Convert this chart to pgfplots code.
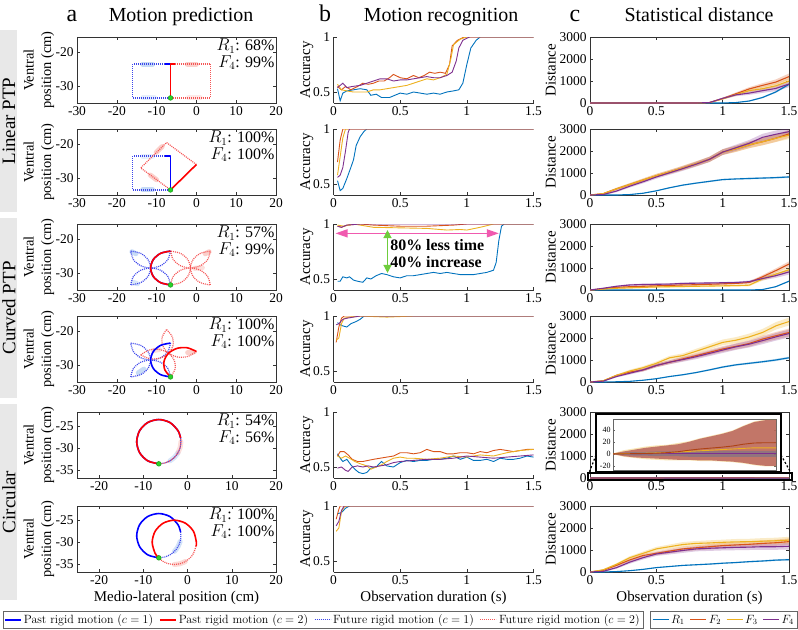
\documentclass[border=0pt]{standalone}
\usepackage{pgfplots}
\pgfplotsset{compat=1.18}
\usepackage{pgfplotstable}
\usetikzlibrary{arrows.meta}
\usepackage{fontspec}
\setmainfont{Liberation Serif}
\newfontfamily\lmr{Latin Modern Roman}

\definecolor{cR}{RGB}{0,114,189}
\definecolor{cF2}{RGB}{217,83,25}
\definecolor{cF3}{RGB}{237,177,32}
\definecolor{cF4}{RGB}{126,47,142}
\definecolor{dotB}{RGB}{60,70,235}
\definecolor{dotR}{RGB}{245,85,85}
\definecolor{haloB}{RGB}{130,175,235}
\definecolor{haloR}{RGB}{245,150,140}
\definecolor{gfill}{RGB}{40,210,40}
\definecolor{gedge}{RGB}{20,140,20}
\definecolor{arrowpink}{RGB}{240,90,175}
\definecolor{arrowgreen}{RGB}{110,205,60}
\definecolor{bandred}{RGB}{185,100,92}

% distance curves: mean and spread per predictor; rows run forward (s=1) and back (s=-1)
% so that mean + s*spread outlines the shaded band
\pgfplotstableread{
x R F2 F3 F4 eR eF s
0 0 0 0 0 1 1 1
0.1 0 0 0 0 1 1 1
0.2 0 0 0 0 1 1 1
0.3 0 0 0 0 1 1 1
0.4 0 0 0 0 1 1 1
0.5 0 0 0 0 1 1 1
0.6 0 0 0 0 1 2 1
0.7 0 0 0 0 1 2 1
0.8 0 0 0 0 1 3 1
0.9 0 20 20 20 1 15 1
1.0 0 200 190 210 5 40 1
1.1 20 420 380 370 10 60 1
1.2 90 640 560 450 20 80 1
1.3 250 800 650 560 30 100 1
1.4 500 950 780 660 40 120 1
1.5 850 1200 1000 860 50 140 1
1.5 850 1200 1000 860 50 140 -1
1.4 500 950 780 660 40 120 -1
1.3 250 800 650 560 30 100 -1
1.2 90 640 560 450 20 80 -1
1.1 20 420 380 370 10 60 -1
1.0 0 200 190 210 5 40 -1
0.9 0 20 20 20 1 15 -1
0.8 0 0 0 0 1 3 -1
0.7 0 0 0 0 1 2 -1
0.6 0 0 0 0 1 2 -1
0.5 0 0 0 0 1 1 -1
0.4 0 0 0 0 1 1 -1
0.3 0 0 0 0 1 1 -1
0.2 0 0 0 0 1 1 -1
0.1 0 0 0 0 1 1 -1
0 0 0 0 0 1 1 -1
}\cOne
\pgfplotstableread{
x R F2 F3 F4 eR eF s
0 0 0 0 0 1 1 1
0.1 0 60 60 20 2 30 1
0.2 0 280 280 180 5 50 1
0.3 20 480 480 400 10 60 1
0.4 80 680 680 600 15 70 1
0.5 190 880 880 820 20 80 1
0.6 330 1050 1050 1010 25 90 1
0.7 450 1230 1230 1200 30 100 1
0.8 540 1420 1420 1400 30 110 1
0.9 620 1620 1620 1620 35 120 1
1.0 700 1950 1950 1950 35 130 1
1.1 730 2100 2100 2150 35 140 1
1.2 750 2280 2280 2350 40 150 1
1.3 770 2420 2420 2620 40 160 1
1.4 790 2580 2580 2760 40 170 1
1.5 820 2780 2720 2880 45 180 1
1.5 820 2780 2720 2880 45 180 -1
1.4 790 2580 2580 2760 40 170 -1
1.3 770 2420 2420 2620 40 160 -1
1.2 750 2280 2280 2350 40 150 -1
1.1 730 2100 2100 2150 35 140 -1
1.0 700 1950 1950 1950 35 130 -1
0.9 620 1620 1620 1620 35 120 -1
0.8 540 1420 1420 1400 30 110 -1
0.7 450 1230 1230 1200 30 100 -1
0.6 330 1050 1050 1010 25 90 -1
0.5 190 880 880 820 20 80 -1
0.4 80 680 680 600 15 70 -1
0.3 20 480 480 400 10 60 -1
0.2 0 280 280 180 5 50 -1
0.1 0 60 60 20 2 30 -1
0 0 0 0 0 1 1 -1
}\cTwo
\pgfplotstableread{
x R F2 F3 F4 eR eF s
0 0 0 0 0 1 1 1
0.1 0 60 40 80 1 20 1
0.2 0 120 80 170 1 30 1
0.3 0 150 100 230 1 40 1
0.4 0 170 120 250 1 40 1
0.5 0 190 140 260 1 40 1
0.6 0 210 150 270 1 40 1
0.7 0 230 160 300 1 40 1
0.8 0 240 170 310 1 40 1
0.9 0 260 180 320 1 40 1
1.0 0 280 190 330 1 40 1
1.1 0 300 200 340 1 45 1
1.2 0 340 220 380 5 50 1
1.3 20 600 500 520 10 80 1
1.4 150 880 720 650 20 100 1
1.5 400 1180 920 820 30 120 1
1.5 400 1180 920 820 30 120 -1
1.4 150 880 720 650 20 100 -1
1.3 20 600 500 520 10 80 -1
1.2 0 340 220 380 5 50 -1
1.1 0 300 200 340 1 45 -1
1.0 0 280 190 330 1 40 -1
0.9 0 260 180 320 1 40 -1
0.8 0 240 170 310 1 40 -1
0.7 0 230 160 300 1 40 -1
0.6 0 210 150 270 1 40 -1
0.5 0 190 140 260 1 40 -1
0.4 0 170 120 250 1 40 -1
0.3 0 150 100 230 1 40 -1
0.2 0 120 80 170 1 30 -1
0.1 0 60 40 80 1 20 -1
0 0 0 0 0 1 1 -1
}\cThree
\pgfplotstableread{
x R F2 F3 F4 eR eF s
0 0 0 0 0 1 1 1
0.1 0 50 60 40 2 20 1
0.2 10 300 300 250 5 40 1
0.3 30 450 500 400 10 60 1
0.4 80 550 650 550 15 70 1
0.5 150 750 850 750 20 80 1
0.6 250 900 1100 900 25 90 1
0.7 330 1050 1200 1020 30 100 1
0.8 430 1200 1400 1150 30 110 1
0.9 550 1350 1600 1300 35 120 1
1.0 680 1500 1800 1450 40 130 1
1.1 780 1620 1900 1600 40 140 1
1.2 850 1750 2050 1720 45 150 1
1.3 920 1950 2250 1880 45 160 1
1.4 1000 2100 2550 2050 50 170 1
1.5 1100 2250 2750 2200 50 180 1
1.5 1100 2250 2750 2200 50 180 -1
1.4 1000 2100 2550 2050 50 170 -1
1.3 920 1950 2250 1880 45 160 -1
1.2 850 1750 2050 1720 45 150 -1
1.1 780 1620 1900 1600 40 140 -1
1.0 680 1500 1800 1450 40 130 -1
0.9 550 1350 1600 1300 35 120 -1
0.8 430 1200 1400 1150 30 110 -1
0.7 330 1050 1200 1020 30 100 -1
0.6 250 900 1100 900 25 90 -1
0.5 150 750 850 750 20 80 -1
0.4 80 550 650 550 15 70 -1
0.3 30 450 500 400 10 60 -1
0.2 10 300 300 250 5 40 -1
0.1 0 50 60 40 2 20 -1
0 0 0 0 0 1 1 -1
}\cFour
\pgfplotstableread{
x R F2 F3 F4 b2 b3 bB
0 0 0 0 0 0.5 0.6 0.5
0.1 0 0 0.3 0.2 4 6 2
0.2 0 0.3 0.5 0.3 7 9 3
0.3 0 0.5 1 0.3 10 12 3
0.4 0 1 1.5 0.5 12 14 4
0.5 0 2 2 0.5 14 15 4
0.6 0 3.5 3 0.5 16 18 4
0.7 0 6 4 0.5 20 21 5
0.8 0 8 5 0.5 25 26 5
0.9 0 9.5 6 0.5 29 30 5
1.0 0 11 7 0.5 33 34 5
1.1 0 13 8 0.5 38 39 5
1.2 0 16 9 0.5 46 47 5
1.3 0 18 10 0.5 53 54 5
1.4 0 18.5 10 0.5 56 57 5
1.5 0 18.5 10 0.5 56 57 5
1.5 0 18.5 10 0.5 -20 -21 -5
1.4 0 18.5 10 0.5 -20 -21 -5
1.3 0 18 10 0.5 -18 -19 -5
1.2 0 16 9 0.5 -15 -16 -5
1.1 0 13 8 0.5 -13 -14 -5
1.0 0 11 7 0.5 -12 -13 -5
0.9 0 9.5 6 0.5 -11 -12 -5
0.8 0 8 5 0.5 -11 -12 -5
0.7 0 6 4 0.5 -10 -11 -5
0.6 0 3.5 3 0.5 -10 -11 -4
0.5 0 2 2 0.5 -9 -11 -4
0.4 0 1 1.5 0.5 -8 -10 -4
0.3 0 0.5 1 0.3 -7 -9 -3
0.2 0 0.3 0.5 0.3 -6 -7 -3
0.1 0 0 0.3 0.2 -4 -5 -2
0 0 0 0 0 -0.5 -0.6 -0.5
}\cFive
\pgfplotstableread{
x R F2 F3 F4 eR eF s
0 0 0 0 0 1 1 1
0.1 0 80 100 30 2 30 1
0.2 20 300 350 200 5 50 1
0.3 60 550 650 450 10 70 1
0.4 120 750 850 650 15 80 1
0.5 200 850 1050 820 20 90 1
0.6 250 950 1150 900 20 100 1
0.7 300 1050 1250 980 25 110 1
0.8 330 1100 1300 1050 25 110 1
0.9 360 1150 1320 1080 30 120 1
1.0 400 1200 1350 1100 30 120 1
1.1 430 1230 1370 1120 30 130 1
1.2 470 1260 1380 1130 35 130 1
1.3 500 1300 1400 1150 35 140 1
1.4 540 1330 1420 1150 40 140 1
1.5 560 1380 1450 1170 40 150 1
1.5 560 1380 1450 1170 40 150 -1
1.4 540 1330 1420 1150 40 140 -1
1.3 500 1300 1400 1150 35 140 -1
1.2 470 1260 1380 1130 35 130 -1
1.1 430 1230 1370 1120 30 130 -1
1.0 400 1200 1350 1100 30 120 -1
0.9 360 1150 1320 1080 30 120 -1
0.8 330 1100 1300 1050 25 110 -1
0.7 300 1050 1250 980 25 110 -1
0.6 250 950 1150 900 20 100 -1
0.5 200 850 1050 820 20 90 -1
0.4 120 750 850 650 15 80 -1
0.3 60 550 650 450 10 70 -1
0.2 20 300 350 200 5 50 -1
0.1 0 80 100 30 2 30 -1
0 0 0 0 0 1 1 -1
}\cSix

\pgfplotsset{
  panel/.style={scale only axis, anchor=south west, height=66bp,
    axis line style={line width=0.6bp, black!80},
    every tick/.style={line width=0.5bp, black!80},
    major tick length=3bp, tick align=inside,
    tick label style={font=\fontsize{13.5}{14}\selectfont},
    /pgf/number format/assume math mode=true,
    /pgf/number format/1000 sep={},
    scaled ticks=false},
  apanel/.style={panel, width=199bp, xmin=-30, xmax=20, ymin=-35, ymax=-15.5,
    xtick={-30,-20,-10,0,10,20}, ytick={-30,-20},
    every axis y label/.style={at={(axis description cs:-0.191,0.5)}, rotate=90,
      anchor=center, align=center, font=\fontsize{14.5}{17.5}\selectfont},
    ylabel={Ventral\\position (cm)}},
  acirc/.style={apanel, xmin=-25, xmax=20, ymin=-36.7, ymax=-21.8,
    xtick={-20,-10,0,10,20}, ytick={-35,-30,-25}},
  bpanel/.style={panel, width=200bp, xmin=0, xmax=1.5, ymin=0.4, ymax=1,
    xtick={0,0.5,1,1.5}, ytick={0.5,1},
    axis x line*=bottom, axis y line*=left,
    every axis y label/.style={at={(axis description cs:-0.134,0.5)}, rotate=90,
      anchor=center, font=\fontsize{15}{16}\selectfont},
    ylabel={Accuracy}},
  cpanel/.style={panel, width=199bp, xmin=0, xmax=1.5, ymin=0, ymax=3000,
    xtick={0,0.5,1,1.5}, ytick={0,1000,2000,3000},
    every axis y label/.style={at={(axis description cs:-0.197,0.5)}, rotate=90,
      anchor=center, font=\fontsize{15}{16}\selectfont},
    ylabel={Distance}},
  bottomx/.style={every axis x label/.style={at={(axis description cs:0.5,-0.385)},
      anchor=center, font=\fontsize{15}{16}\selectfont}},
  p1/.style={forget plot, color=blue, line width=1.6bp, line join=round},
  p2/.style={forget plot, color=red, line width=1.6bp, line join=round},
  f1/.style={forget plot, color=dotB, line width=1.2bp, dash pattern=on 1bp off 1bp},
  f2/.style={forget plot, color=dotR, line width=1.2bp, dash pattern=on 1bp off 1bp},
  hB/.style={forget plot, color=haloB, line width=5bp, opacity=0.45, line cap=round, line join=round},
  hR/.style={forget plot, color=haloR, line width=5bp, opacity=0.45, line cap=round, line join=round},
  gdot/.style={forget plot, only marks, mark=*, mark size=2.4bp,
    mark options={fill=gfill, draw=gedge, line width=0.4bp}},
  lR/.style={forget plot, color=cR, line width=0.9bp},
  lF2/.style={forget plot, color=cF2, line width=0.9bp},
  lF3/.style={forget plot, color=cF3, line width=0.9bp},
  lF4/.style={forget plot, color=cF4, line width=0.9bp},
  keystyle/.style={legend columns=4, legend cell align=left,
    legend style={anchor=center, draw=black!60, line width=0.5bp,
      font=\lmr\fontsize{12}{13}\selectfont, inner sep=1.5bp}},
}

% legend key: a short stroke in the given style
\newcommand{\keyline}[1]{%
  \addlegendimage{legend image code/.code={\draw[#1] (0bp,0bp) -- (16bp,0bp);}}%
}

% shaded spread around one distance curve
\newcommand{\band}[4]{%
  \addplot[fill=#4, fill opacity=0.25, draw=none, forget plot]
    table[x=x, y expr=\thisrow{#2}+\thisrow{s}*\thisrow{#3}] {#1};
}
\newcommand{\distcurves}[1]{%
  \band{#1}{R}{eR}{cR}
  \band{#1}{F2}{eF}{cF2}
  \band{#1}{F3}{eF}{cF3}
  \band{#1}{F4}{eF}{cF4}
  \addplot[lR, line width=1.1bp] table[x=x, y=R] {#1};
  \addplot[lF2, line width=1.1bp] table[x=x, y=F2] {#1};
  \addplot[lF3, line width=1.1bp] table[x=x, y=F3] {#1};
  \addplot[lF4, line width=1.1bp] table[x=x, y=F4] {#1};
}
\newcommand{\scores}[2]{%
  \node[anchor=north east, align=right, inner sep=1.5bp, font=\fontsize{16}{17}\selectfont]
    at (rel axis cs:1,1) {$R_1$: #1\%\\$F_4$: #2\%};
}

\begin{document}
\begin{tikzpicture}
\useasboundingbox (0,0) rectangle (798bp,-630bp);

% row group labels
\fill[black!9] (0,-30bp) rectangle (17bp,-212bp);
\fill[black!9] (0,-218bp) rectangle (17bp,-398bp);
\fill[black!9] (0,-404bp) rectangle (17bp,-600bp);
\node[rotate=90, font=\fontsize{19}{20}\selectfont] at (9bp,-121bp) {Linear PTP};
\node[rotate=90, font=\fontsize{19}{20}\selectfont] at (9bp,-308bp) {Curved PTP};
\node[rotate=90, font=\fontsize{19}{20}\selectfont] at (9bp,-502bp) {Circular};

% column headings
\node[anchor=base, font=\fontsize{24}{24}\selectfont] at (72bp,-21.7bp) {a};
\node[anchor=base, font=\fontsize{20}{20}\selectfont] at (181bp,-21.7bp) {Motion prediction};
\node[anchor=base, font=\fontsize{24}{24}\selectfont] at (325bp,-21.7bp) {b};
\node[anchor=base, font=\fontsize{20}{20}\selectfont] at (441bp,-21.7bp) {Motion recognition};
\node[anchor=base, font=\fontsize{24}{24}\selectfont] at (575bp,-21.7bp) {c};
\node[anchor=base, font=\fontsize{20}{20}\selectfont] at (699bp,-21.7bp) {Statistical distance};

%% ---------------- column a: trajectories ----------------
% linear, case 1
\begin{axis}[apanel, at={(77bp,-103bp)}]
\addplot[hB] coordinates {(-13.5,-23.5)(-11,-23.5)};
\addplot[hB, opacity=0.2] coordinates {(-13.5,-33.5)(-10.5,-33.5)};
\addplot[hR] coordinates {(-2.3,-23.5)(0,-23.5)};
\addplot[hR, opacity=0.2] coordinates {(-2,-33.5)(1,-33.5)};
\addplot[f1] coordinates {(-8,-23.5)(-16,-23.5)(-16,-33.5)(-6.5,-33.5)};
\addplot[f2] coordinates {(-5.5,-23.5)(3.5,-23.5)(3.5,-33.5)(-6.5,-33.5)};
\addplot[p1] coordinates {(-6.5,-33.5)(-6.5,-23.5)(-8,-23.5)};
\addplot[p2] coordinates {(-6.5,-33.5)(-6.5,-23.5)(-5.5,-23.5)};
\addplot[gdot] coordinates {(-6.5,-33.5)};
\scores{68}{99}
\end{axis}

% linear, case 2
\begin{axis}[apanel, at={(77bp,-195bp)}]
\addplot[hB] coordinates {(-13.5,-33.5)(-11,-33.5)};
\addplot[hB, opacity=0.2] coordinates {(-13.5,-23.5)(-11,-23.5)};
\addplot[hR] coordinates {(-8.6,-20.7)(-10.1,-22.4)};
\addplot[hR] coordinates {(-11.6,-29.1)(-10,-30.5)};
\addplot[f1] coordinates {(-8,-23.5)(-16,-23.5)(-16,-33.5)(-6.5,-33.5)};
\addplot[f2] coordinates {(0,-26)(-7.5,-19.5)(-14,-27)(-6.5,-33.5)};
\addplot[p1] coordinates {(-6.5,-33.5)(-6.5,-23.5)(-8,-23.5)};
\addplot[p2] coordinates {(-6.5,-33.5)(0,-26)};
\addplot[gdot] coordinates {(-6.5,-33.5)};
\scores{100}{100}
\end{axis}

% curved, case 1
\begin{axis}[apanel, at={(77bp,-290bp)}]
\addplot[hB] coordinates {(-16.2,-23.7)(-15.2,-24.3)};
\addplot[hB, opacity=0.3] coordinates {(-15.9,-32.7)(-14.8,-33.2)};
\addplot[hR] coordinates {(3.2,-23.7)(2.2,-24.3)};
\addplot[hR, opacity=0.3] coordinates {(1.5,-28.4)(-0.5,-28.6)};
\addplot[f1, smooth] coordinates {(-6.5,-23.5)(-7.17,-26)(-9,-27.83)(-11.5,-28.5)(-14,-27.83)(-15.83,-26)(-16.5,-23.5)};
\addplot[f1, smooth] coordinates {(-16.5,-23.5)(-14,-24.17)(-12.17,-26)(-11.5,-28.5)(-12.17,-31)(-14,-32.83)(-16.5,-33.5)};
\addplot[f1, smooth] coordinates {(-16.5,-33.5)(-15.83,-31)(-14,-29.17)(-11.5,-28.5)(-9,-29.17)(-7.17,-31)(-6.5,-33.5)};
\addplot[f2, smooth] coordinates {(-6.5,-33.5)(-4,-32.83)(-2.17,-31)(-1.5,-28.5)(-2.17,-26)(-4,-24.17)(-6.5,-23.5)};
\addplot[f2, smooth] coordinates {(-6.5,-23.5)(-5.83,-26)(-4,-27.83)(-1.5,-28.5)(1,-27.83)(2.83,-26)(3.5,-23.5)};
\addplot[f2, smooth] coordinates {(3.5,-23.5)(1,-24.17)(-0.83,-26)(-1.5,-28.5)(-0.83,-31)(1,-32.83)(3.5,-33.5)};
\addplot[f2, smooth] coordinates {(3.5,-33.5)(2.83,-31)(1,-29.17)(-1.5,-28.5)(-4,-29.17)(-5.83,-31)(-6.5,-33.5)};
\addplot[p1, smooth] coordinates {(-6.5,-33.5)(-9,-32.83)(-10.83,-31)(-11.5,-28.5)(-10.83,-26)(-9,-24.17)(-6.5,-23.5)};
\addplot[p2, smooth] coordinates {(-6.5,-33.5)(-9,-32.83)(-10.83,-31)(-11.5,-28.5)(-10.83,-26)(-9,-24.17)(-6.5,-23.5)};
\addplot[gdot] coordinates {(-6.5,-33.5)};
\scores{57}{99}
\end{axis}

% curved, case 2
\begin{axis}[apanel, at={(77bp,-382bp)}]
\addplot[hB] coordinates {(-14.6,-32.3)(-13.2,-31.2)};
\addplot[hR] coordinates {(-2.2,-26.3)(-0.6,-26.1)};
\addplot[hR, opacity=0.3] coordinates {(-10.8,-25.7)(-9.3,-25.4)};
\addplot[f1, smooth] coordinates {(-6.5,-23.5)(-7.17,-26)(-9,-27.83)(-11.5,-28.5)(-14,-27.83)(-15.83,-26)(-16.5,-23.5)};
\addplot[f1, smooth] coordinates {(-16.5,-23.5)(-14,-24.17)(-12.17,-26)(-11.5,-28.5)(-12.17,-31)(-14,-32.83)(-16.5,-33.5)};
\addplot[f1, smooth] coordinates {(-16.5,-33.5)(-15.83,-31)(-14,-29.17)(-11.5,-28.5)(-9,-29.17)(-7.17,-31)(-6.5,-33.5)};
\addplot[f2, smooth] coordinates {(0,-26)(-2.13,-27.44)(-4.69,-27.62)(-7,-26.5)(-8.44,-24.37)(-8.62,-21.81)(-7.5,-19.5)};
\addplot[f2, smooth] coordinates {(-7.5,-19.5)(-6.06,-21.63)(-5.88,-24.19)(-7,-26.5)(-9.13,-27.94)(-11.69,-28.12)(-14,-27)};
\addplot[f2, smooth] coordinates {(-14,-27)(-11.87,-25.56)(-9.31,-25.38)(-7,-26.5)(-5.56,-28.63)(-5.38,-31.19)(-6.5,-33.5)};
\addplot[p1, smooth] coordinates {(-6.5,-33.5)(-9,-32.83)(-10.83,-31)(-11.5,-28.5)(-10.83,-26)(-9,-24.17)(-6.5,-23.5)};
\addplot[p2, smooth] coordinates {(-6.5,-33.5)(-7.94,-31.37)(-8.12,-28.81)(-7,-26.5)(-4.87,-25.06)(-2.31,-24.88)(0,-26)};
\addplot[gdot] coordinates {(-6.5,-33.5)};
\scores{100}{100}
\end{axis}

% circular, case 1
\begin{axis}[acirc, at={(77bp,-478bp)}]
\addplot[hB, opacity=0.3, smooth] coordinates {(-2.17,-31)(-2.96,-32.04)(-4,-32.83)};
\addplot[hR, opacity=0.3, smooth] coordinates {(-1.5,-28.5)(-1.67,-29.79)(-2.17,-31)};
\addplot[f1, smooth] coordinates {(-1.58,-27.63)(-1.5,-28.5)(-1.67,-29.79)(-2.17,-31)(-2.96,-32.04)(-4,-32.83)(-5.21,-33.33)(-6.5,-33.5)};
\addplot[f2, smooth, dash phase=1bp] coordinates {(-1.58,-27.63)(-1.5,-28.5)(-1.67,-29.79)(-2.17,-31)(-2.96,-32.04)(-4,-32.83)(-5.21,-33.33)(-6.5,-33.5)};
\addplot[p1, smooth] coordinates {(-6.5,-33.5)(-9,-32.83)(-10.83,-31)(-11.5,-28.5)(-10.83,-26)(-9,-24.17)(-6.5,-23.5)(-4,-24.17)(-2.17,-26)(-1.58,-27.63)};
\addplot[p2, smooth] coordinates {(-6.5,-33.5)(-9,-32.83)(-10.83,-31)(-11.5,-28.5)(-10.83,-26)(-9,-24.17)(-6.5,-23.5)(-4,-24.17)(-2.17,-26)(-1.58,-27.63)};
\addplot[gdot] coordinates {(-6.5,-33.5)};
\scores{54}{56}
\end{axis}

% circular, case 2 (carries the trajectory legend)
\begin{axis}[acirc, at={(77bp,-572bp)}, bottomx, xlabel={Medio-lateral position (cm)},
  keystyle, legend style={at={(1.236,-0.725)},
    /tikz/every even column/.append style={column sep=4bp}}]
\keyline{draw=blue, line width=1.6bp}
\addlegendentry{Past rigid motion ($c=1$)}
\keyline{draw=red, line width=1.6bp}
\addlegendentry{Past rigid motion ($c=2$)}
\keyline{draw=dotB, line width=1.2bp, dash pattern=on 1bp off 1bp}
\addlegendentry{Future rigid motion ($c=1$)}
\keyline{draw=dotR, line width=1.2bp, dash pattern=on 1bp off 1bp}
\addlegendentry{Future rigid motion ($c=2$)}
\addplot[hB, opacity=0.35, smooth] coordinates {(-1.67,-29.79)(-2.17,-31)(-2.96,-32.04)};
\addplot[hR, opacity=0.35, smooth] coordinates {(-0.5,-34.33)(-1.71,-34.83)(-3,-35)};
\addplot[f1, smooth] coordinates {(-1.58,-27.63)(-1.5,-28.5)(-1.67,-29.79)(-2.17,-31)(-2.96,-32.04)(-4,-32.83)(-5.21,-33.33)(-6.5,-33.5)};
\addplot[f2, smooth] coordinates {(1.92,-30.87)(1.33,-32.5)(0.54,-33.54)(-0.5,-34.33)(-1.71,-34.83)(-3,-35)(-4.29,-34.83)(-5.5,-34.33)(-6.54,-33.54)};
\addplot[p1, smooth] coordinates {(-6.5,-33.5)(-9,-32.83)(-10.83,-31)(-11.5,-28.5)(-10.83,-26)(-9,-24.17)(-6.5,-23.5)(-4,-24.17)(-2.17,-26)(-1.58,-27.63)};
\addplot[p2, smooth] coordinates {(-6.54,-33.54)(-7.33,-32.5)(-8,-30)(-7.33,-27.5)(-5.5,-25.67)(-3,-25)(-0.5,-25.67)(1.33,-27.5)(2,-30)(1.92,-30.87)};
\addplot[gdot] coordinates {(-6.5,-33.5)};
\scores{100}{100}
\end{axis}

%% ---------------- column b: recognition accuracy ----------------
\begin{axis}[bpanel, at={(333.5bp,-103bp)}]
\addplot[lR] coordinates {(0.03,0.53)(0.05,0.42)(0.07,0.49)(0.1,0.51)(0.15,0.52)(0.2,0.53)(0.25,0.52)(0.28,0.47)(0.32,0.48)(0.36,0.45)(0.42,0.45)(0.46,0.47)(0.5,0.49)(0.55,0.48)(0.6,0.5)(0.65,0.49)(0.7,0.48)(0.75,0.49)(0.8,0.48)(0.85,0.5)(0.9,0.51)(0.94,0.52)(0.97,0.58)(1.0,0.75)(1.03,0.9)(1.07,0.97)(1.1,1)(1.5,1)};
\addplot[lF2] coordinates {(0.03,0.55)(0.06,0.52)(0.09,0.55)(0.13,0.52)(0.18,0.55)(0.22,0.58)(0.26,0.57)(0.3,0.58)(0.34,0.6)(0.38,0.6)(0.42,0.63)(0.45,0.66)(0.5,0.63)(0.55,0.62)(0.6,0.65)(0.64,0.63)(0.68,0.65)(0.72,0.68)(0.76,0.67)(0.8,0.68)(0.84,0.67)(0.87,0.75)(0.89,0.92)(0.93,0.97)(0.98,1)(1.5,1)};
\addplot[lF3] coordinates {(0.03,0.57)(0.06,0.52)(0.1,0.51)(0.15,0.5)(0.2,0.5)(0.25,0.5)(0.3,0.52)(0.35,0.52)(0.4,0.53)(0.45,0.54)(0.5,0.55)(0.55,0.56)(0.6,0.58)(0.65,0.6)(0.7,0.62)(0.75,0.61)(0.8,0.63)(0.85,0.66)(0.88,0.8)(0.9,0.93)(0.95,0.98)(1.0,1)(1.5,1)};
\addplot[lF4] coordinates {(0.03,0.54)(0.07,0.58)(0.1,0.54)(0.14,0.55)(0.2,0.56)(0.25,0.58)(0.3,0.6)(0.35,0.62)(0.4,0.62)(0.45,0.6)(0.5,0.61)(0.55,0.61)(0.6,0.62)(0.65,0.63)(0.7,0.64)(0.75,0.63)(0.8,0.63)(0.85,0.65)(0.89,0.68)(0.92,0.78)(0.94,0.9)(0.97,0.97)(1.02,1)(1.5,1)};
\end{axis}

\begin{axis}[bpanel, at={(333.5bp,-195bp)}]
\addplot[lR] coordinates {(0.03,0.53)(0.05,0.44)(0.07,0.46)(0.1,0.55)(0.13,0.65)(0.15,0.72)(0.17,0.85)(0.2,0.93)(0.23,0.98)(0.25,1)(1.5,1)};
\addplot[lF2] coordinates {(0.03,0.7)(0.05,0.9)(0.07,1)(1.5,1)};
\addplot[lF3] coordinates {(0.03,0.58)(0.05,0.75)(0.07,0.92)(0.09,1)(1.5,1)};
\addplot[lF4] coordinates {(0.03,0.56)(0.05,0.58)(0.07,0.65)(0.09,0.8)(0.11,0.97)(0.12,1)(1.5,1)};
\end{axis}

\begin{axis}[bpanel, at={(333.5bp,-290bp)}]
\addplot[lR] coordinates {(0.03,0.48)(0.05,0.48)(0.07,0.52)(0.1,0.51)(0.12,0.52)(0.15,0.49)(0.18,0.48)(0.22,0.47)(0.25,0.51)(0.28,0.5)(0.32,0.53)(0.36,0.55)(0.4,0.54)(0.45,0.52)(0.5,0.51)(0.55,0.53)(0.6,0.53)(0.65,0.54)(0.7,0.55)(0.75,0.56)(0.8,0.55)(0.85,0.56)(0.9,0.55)(0.95,0.54)(1.0,0.54)(1.05,0.54)(1.1,0.55)(1.15,0.56)(1.2,0.58)(1.22,0.65)(1.24,0.85)(1.26,0.98)(1.28,1)(1.5,1)};
\addplot[lF2] coordinates {(0.03,0.98)(0.06,0.97)(0.1,0.99)(0.2,1)(0.3,0.99)(0.5,0.98)(0.7,0.98)(0.9,0.99)(1.0,1)(1.5,1)};
\addplot[lF3] coordinates {(0.03,0.99)(0.08,0.98)(0.15,1)(0.2,0.99)(0.3,0.97)(0.5,0.965)(0.7,0.96)(0.85,0.945)(0.95,0.95)(1.0,0.945)(1.1,0.97)(1.2,1)(1.5,1)};
\addplot[lF4] coordinates {(0.03,0.98)(0.06,0.97)(0.1,0.99)(0.2,1)(1.5,1)};
\draw[arrowpink, line width=1.3bp, {Triangle[length=12bp,width=8bp]}-{Triangle[length=12bp,width=8bp]}]
  (axis cs:0.015,0.915) -- (axis cs:1.24,0.915);
\draw[arrowgreen, line width=1.3bp, {Triangle[length=8bp,width=8bp]}-{Triangle[length=8bp,width=8bp]}]
  (axis cs:0.405,0.945) -- (axis cs:0.405,0.555);
\node[anchor=west, align=left, inner sep=0pt, font=\bfseries\fontsize{16}{17}\selectfont]
  at (axis cs:0.425,0.73) {80\% less time\\40\% increase};
\end{axis}

\begin{axis}[bpanel, at={(333.5bp,-382bp)}]
\addplot[lR] coordinates {(0.03,0.94)(0.05,0.92)(0.07,0.91)(0.1,0.9)(0.13,0.93)(0.17,0.95)(0.2,0.97)(0.23,1)(1.5,1)};
\addplot[lF2] coordinates {(0.02,0.76)(0.04,0.9)(0.06,0.98)(0.08,1)(1.5,1)};
\addplot[lF3] coordinates {(0.02,0.78)(0.04,0.8)(0.06,0.93)(0.08,0.98)(0.12,0.99)(0.2,1)(0.4,0.99)(0.6,1)(0.8,1)(1.5,1)};
\addplot[lF4] coordinates {(0.02,0.92)(0.04,0.93)(0.07,0.97)(0.1,0.98)(0.2,1)(1.5,1)};
\end{axis}

\begin{axis}[bpanel, at={(333.5bp,-478bp)}]
\addplot[lR] coordinates {(0.03,0.62)(0.05,0.58)(0.07,0.55)(0.1,0.57)(0.13,0.52)(0.16,0.48)(0.19,0.45)(0.22,0.44)(0.25,0.45)(0.28,0.49)(0.32,0.5)(0.36,0.55)(0.4,0.51)(0.45,0.5)(0.5,0.54)(0.55,0.56)(0.6,0.55)(0.65,0.56)(0.7,0.56)(0.75,0.57)(0.8,0.57)(0.85,0.58)(0.9,0.6)(0.95,0.57)(1.0,0.59)(1.05,0.56)(1.1,0.56)(1.15,0.57)(1.2,0.55)(1.25,0.58)(1.3,0.57)(1.35,0.57)(1.4,0.58)(1.45,0.6)(1.5,0.59)};
\addplot[lF2] coordinates {(0.03,0.6)(0.05,0.64)(0.08,0.64)(0.11,0.61)(0.14,0.57)(0.18,0.55)(0.22,0.55)(0.26,0.56)(0.3,0.57)(0.35,0.58)(0.4,0.59)(0.45,0.6)(0.5,0.63)(0.55,0.63)(0.6,0.62)(0.65,0.63)(0.7,0.66)(0.75,0.64)(0.8,0.64)(0.85,0.62)(0.9,0.62)(0.95,0.63)(1.0,0.63)(1.05,0.62)(1.1,0.64)(1.15,0.63)(1.2,0.65)(1.25,0.66)(1.3,0.65)(1.35,0.64)(1.4,0.65)(1.45,0.66)(1.5,0.66)};
\addplot[lF3] coordinates {(0.03,0.6)(0.06,0.58)(0.09,0.6)(0.12,0.58)(0.16,0.55)(0.2,0.53)(0.25,0.51)(0.28,0.48)(0.32,0.5)(0.36,0.52)(0.4,0.55)(0.45,0.58)(0.5,0.59)(0.55,0.58)(0.6,0.58)(0.7,0.57)(0.8,0.58)(0.9,0.6)(1.0,0.59)(1.1,0.61)(1.2,0.6)(1.3,0.63)(1.4,0.65)(1.5,0.66)};
\addplot[lF4] coordinates {(0.03,0.49)(0.06,0.5)(0.09,0.47)(0.11,0.46)(0.14,0.5)(0.18,0.51)(0.22,0.5)(0.26,0.51)(0.3,0.5)(0.35,0.51)(0.4,0.52)(0.45,0.54)(0.5,0.55)(0.6,0.56)(0.7,0.57)(0.8,0.57)(0.9,0.58)(1.0,0.6)(1.1,0.59)(1.2,0.58)(1.3,0.59)(1.4,0.6)(1.5,0.61)};
\end{axis}

\begin{axis}[bpanel, at={(333.5bp,-572bp)}, bottomx, xlabel={Observation duration (s)}]
\addplot[lR] coordinates {(0.03,0.93)(0.06,0.94)(0.09,0.98)(0.12,1)(1.5,1)};
\addplot[lF2] coordinates {(0.02,0.88)(0.04,0.97)(0.05,1)(1.5,1)};
\addplot[lF3] coordinates {(0.02,0.77)(0.04,0.8)(0.06,0.95)(0.08,0.99)(0.1,1)(1.5,1)};
\addplot[lF4] coordinates {(0.02,0.82)(0.04,0.86)(0.06,0.96)(0.08,1)(1.5,1)};
\end{axis}

%% ---------------- column c: statistical distance ----------------
\begin{axis}[cpanel, at={(590bp,-103bp)}]
\distcurves{\cOne}
\end{axis}
\begin{axis}[cpanel, at={(590bp,-195bp)}]
\distcurves{\cTwo}
\end{axis}
\begin{axis}[cpanel, at={(590bp,-290bp)}]
\distcurves{\cThree}
\end{axis}
\begin{axis}[cpanel, at={(590bp,-382bp)}]
\distcurves{\cFour}
\end{axis}
\begin{axis}[cpanel, at={(590bp,-478bp)}]
\addplot[lR, line width=1.1bp] table[x=x, y=R] {\cFive};
\addplot[lF2, line width=1.1bp] table[x=x, y=F2] {\cFive};
\addplot[lF3, line width=1.1bp] table[x=x, y=F3] {\cFive};
\addplot[lF4, line width=1.1bp] table[x=x, y=F4] {\cFive};
\end{axis}
% magnified view of the near-zero range
\draw[line width=1.3bp, fill=white] (596bp,-414bp) rectangle (781bp,-472bp);
\begin{axis}[scale only axis, anchor=south west, at={(613bp,-470bp)}, width=163bp, height=51bp,
  xmin=0, xmax=1.5, ymin=-27, ymax=58, ytick={-20,0,20,40}, xtick=\empty,
  axis line style={line width=0.4bp, black!60}, every tick/.style={line width=0.4bp, black!60},
  major tick length=2bp, tick align=inside,
  tick label style={font=\fontsize{8}{8}\selectfont}, yticklabel style={xshift=1bp},
  /pgf/number format/assume math mode=true]
\addplot[fill=cF3, fill opacity=0.35, draw=none, forget plot] table[x=x, y=b3] {\cFive};
\addplot[fill=bandred, fill opacity=0.85, draw=none, forget plot] table[x=x, y=b2] {\cFive};
\addplot[fill=cR, fill opacity=0.25, draw=none, forget plot] table[x=x, y=bB] {\cFive};
\addplot[lR, line width=0.9bp] table[x=x, y=R] {\cFive};
\addplot[lF4, line width=0.9bp] table[x=x, y=F4] {\cFive};
\addplot[lF3, line width=0.9bp] table[x=x, y=F3] {\cFive};
\addplot[color=cF2!80!black, line width=0.9bp, forget plot] table[x=x, y=F2] {\cFive};
\end{axis}
\draw[line width=1.3bp] (588bp,-473bp) rectangle (792bp,-480bp);
\draw[line width=1.2bp, dash pattern=on 2bp off 2bp] (596bp,-455bp) -- (589bp,-473bp);
\draw[line width=1.2bp, dash pattern=on 2bp off 2bp] (781bp,-455bp) -- (791bp,-473bp);

% last distance panel (carries the predictor legend)
\begin{axis}[cpanel, at={(590bp,-572bp)}, bottomx, xlabel={Observation duration (s)},
  keystyle, legend style={at={(0.673,-0.725)},
    /tikz/every even column/.append style={column sep=3bp}}]
\keyline{draw=cR, line width=1.1bp}
\addlegendentry{$R_1$}
\keyline{draw=cF2, line width=1.1bp}
\addlegendentry{$F_2$}
\keyline{draw=cF3, line width=1.1bp}
\addlegendentry{$F_3$}
\keyline{draw=cF4, line width=1.1bp}
\addlegendentry{$F_4$}
\distcurves{\cSix}
\end{axis}
\end{tikzpicture}
\end{document}
